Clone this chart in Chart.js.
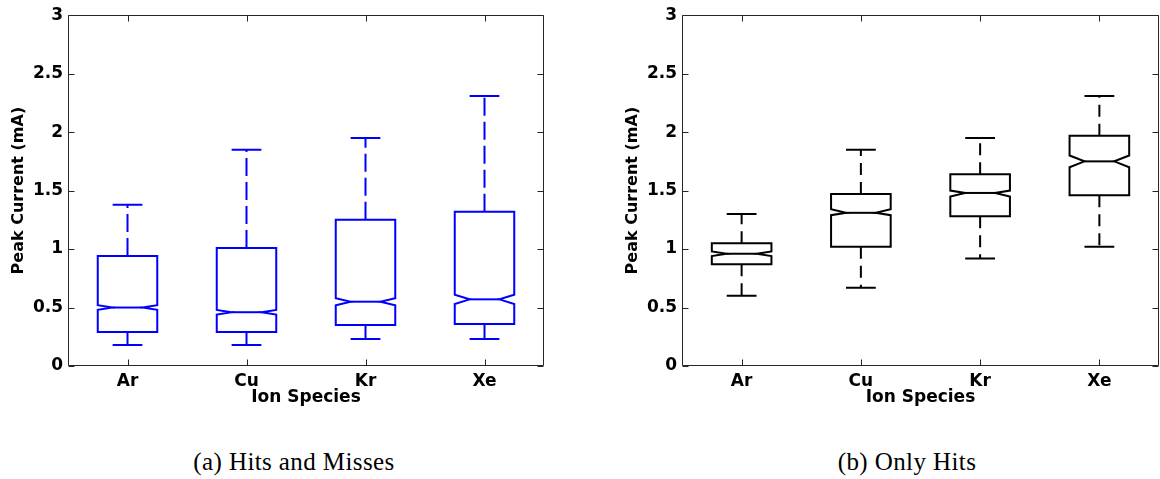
<!DOCTYPE html>
<html>
<head>
<meta charset="utf-8">
<script src="https://cdn.jsdelivr.net/npm/chart.js@4"></script>
<style>
  body { margin: 0; background: #fff; width: 1160px; height: 479px; position: relative; overflow: hidden; }
  canvas { position: absolute; top: 0; }
  .cap { position: absolute; top: 449px; width: 300px; text-align: center; font-family: 'Liberation Serif', 'Times New Roman', serif; font-size: 25px; line-height: 25px; letter-spacing: 0.4px; color: #000; }
</style>
</head>
<body>
<canvas id="chartA" width="580" height="430" style="left:0"></canvas>
<canvas id="chartB" width="580" height="430" style="left:580px"></canvas>
<div class="cap" style="left:144px">(a) Hits and Misses</div>
<div class="cap" style="left:757px">(b) Only Hits</div>
<script>
const categories = ['Ar', 'Cu', 'Kr', 'Xe'];
const yTickLabels = ['0', '0.5', '1', '1.5', '2', '2.5', '3'];

// (a) hits and misses
const lowerA   = [0.18, 0.18, 0.23, 0.23];
const q1A      = [0.29, 0.29, 0.35, 0.36];
const notchLoA = [0.48, 0.44, 0.52, 0.53];
const medA     = [0.50, 0.46, 0.55, 0.57];
const notchHiA = [0.52, 0.48, 0.58, 0.61];
const q3A      = [0.94, 1.01, 1.25, 1.32];
const upperA   = [1.38, 1.85, 1.95, 2.31];

// (b) only hits
const lowerB   = [0.60, 0.67, 0.92, 1.02];
const q1B      = [0.87, 1.02, 1.28, 1.46];
const notchLoB = [0.94, 1.29, 1.45, 1.70];
const medB     = [0.96, 1.31, 1.48, 1.75];
const notchHiB = [0.98, 1.34, 1.50, 1.80];
const q3B      = [1.05, 1.47, 1.64, 1.97];
const upperB   = [1.30, 1.85, 1.95, 2.31];

// draws notched boxes + dashed whiskers from the stats using the chart scales
const notchBoxes = {
    id: 'notchBoxes',
    afterDatasetsDraw(chart, args, opts) {
        const ctx = chart.ctx;
        const xs = chart.scales.x;
        const ys = chart.scales.y;
        const step = xs.getPixelForValue(1) - xs.getPixelForValue(0);
        const half = step * 0.25;
        const ind = half * 0.5;
        const capHalf = step * 0.125;
        const st = opts.stats;
        ctx.save();
        ctx.strokeStyle = opts.color;
        ctx.lineWidth = 2;
        ctx.lineJoin = 'miter';
        for (let i = 0; i < categories.length; i++) {
            const cx = xs.getPixelForValue(i);
            const l = cx - half, r = cx + half;
            const yLo = ys.getPixelForValue(st.lower[i]);
            const yQ1 = ys.getPixelForValue(st.q1[i]);
            const yNl = ys.getPixelForValue(st.notchLo[i]);
            const yMd = ys.getPixelForValue(st.med[i]);
            const yNh = ys.getPixelForValue(st.notchHi[i]);
            const yQ3 = ys.getPixelForValue(st.q3[i]);
            const yUp = ys.getPixelForValue(st.upper[i]);

            // whiskers
            ctx.setLineDash(opts.dash);
            ctx.beginPath();
            ctx.moveTo(cx, yQ3); ctx.lineTo(cx, yUp);
            ctx.moveTo(cx, yQ1); ctx.lineTo(cx, yLo);
            ctx.stroke();
            ctx.setLineDash([]);

            // caps
            ctx.beginPath();
            ctx.moveTo(cx - capHalf, yUp); ctx.lineTo(cx + capHalf, yUp);
            ctx.moveTo(cx - capHalf, yLo); ctx.lineTo(cx + capHalf, yLo);
            ctx.stroke();

            // notched box
            ctx.beginPath();
            ctx.moveTo(l, yQ1);
            ctx.lineTo(l, yNl);
            ctx.lineTo(l + ind, yMd);
            ctx.lineTo(l, yNh);
            ctx.lineTo(l, yQ3);
            ctx.lineTo(r, yQ3);
            ctx.lineTo(r, yNh);
            ctx.lineTo(r - ind, yMd);
            ctx.lineTo(r, yNl);
            ctx.lineTo(r, yQ1);
            ctx.closePath();
            ctx.stroke();

            // median
            ctx.beginPath();
            ctx.moveTo(l + ind, yMd); ctx.lineTo(r - ind, yMd);
            ctx.stroke();
        }
        ctx.restore();
    }
};

// matlab style frame with inward ticks
const axesFrame = {
    id: 'axesFrame',
    afterDraw(chart) {
        const ctx = chart.ctx;
        const a = chart.chartArea;
        const xs = chart.scales.x;
        const ys = chart.scales.y;
        const L = Math.round(a.left) + 0.5, R = Math.round(a.right) - 0.5;
        const T = Math.round(a.top) + 0.5, B = Math.round(a.bottom) - 0.5;
        ctx.save();
        ctx.strokeStyle = '#262626';
        ctx.lineWidth = 1;
        ctx.beginPath();
        ctx.rect(L, T, R - L, B - T);
        ys.ticks.forEach(t => {
            const py = Math.round(ys.getPixelForValue(t.value)) + 0.5;
            ctx.moveTo(L, py); ctx.lineTo(L + 6, py);
            ctx.moveTo(R, py); ctx.lineTo(R - 6, py);
        });
        categories.forEach((c, i) => {
            const px = Math.round(xs.getPixelForValue(i)) + 0.5;
            ctx.moveTo(px, B); ctx.lineTo(px, B - 6);
            ctx.moveTo(px, T); ctx.lineTo(px, T + 6);
        });
        ctx.stroke();
        ctx.restore();
    }
};

function makeChart(id, st, color, dash, padLeft, padRight) {
    const tickFont = {family: 'DejaVu Sans', weight: 'bold', size: 17};
    return new Chart(document.getElementById(id), {
        type: 'bar',
        data: {
            labels: categories,
            datasets: [{
                label: 'box',
                data: st.q1.map((v, i) => [v, st.q3[i]]),
                backgroundColor: 'rgba(0,0,0,0)',
                borderWidth: 0
            }]
        },
        options: {
            responsive: false,
            animation: false,
            events: [],
            layout: {
                padding: {left: padLeft, right: padRight, top: 15, bottom: 0}
            },
            plugins: {
                legend: {display: false},
                tooltip: {enabled: false},
                notchBoxes: {stats: st, color: color, dash: dash}
            },
            scales: {
                x: {
                    type: 'category',
                    offset: true,
                    grid: {display: false, drawTicks: false},
                    border: {display: false},
                    ticks: {color: '#000', font: tickFont, padding: 5, maxRotation: 0},
                    title: {
                        display: true,
                        text: 'Ion Species',
                        color: '#000',
                        font: {family: 'DejaVu Sans', weight: 'bold', size: 17},
                        padding: {top: 0, bottom: 22}
                    },
                    afterFit: (scale) => { scale.height = 64; }
                },
                y: {
                    min: 0,
                    max: 3,
                    grid: {display: false, drawTicks: false},
                    border: {display: false},
                    ticks: {
                        stepSize: 0.5,
                        color: '#000',
                        font: tickFont,
                        padding: 5,
                        callback: (v, i) => yTickLabels[i]
                    },
                    title: {
                        display: true,
                        text: 'Peak Current (mA)',
                        color: '#000',
                        font: {family: 'DejaVu Sans', weight: 'bold', size: 16},
                        padding: {top: 9, bottom: 0}
                    },
                    afterFit: (scale) => { scale.width = 68; }
                }
            }
        },
        plugins: [notchBoxes, axesFrame]
    });
}

makeChart('chartA', {lower: lowerA, q1: q1A, notchLo: notchLoA, med: medA, notchHi: notchHiA, q3: q3A, upper: upperA},
    '#0000ff', [18, 6], 0, 36);
makeChart('chartB', {lower: lowerB, q1: q1B, notchLo: notchLoB, med: medB, notchHi: notchHiB, q3: q3B, upper: upperB},
    '#000000', [12, 7], 34, 1);
</script>
</body>
</html>
